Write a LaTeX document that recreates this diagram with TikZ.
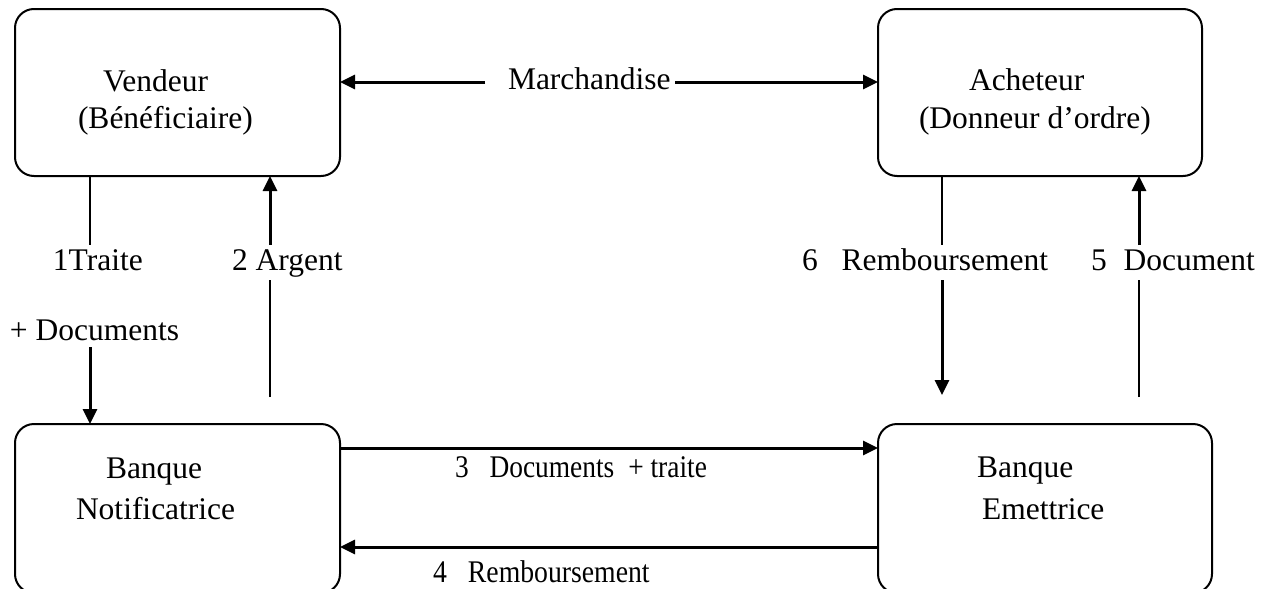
\documentclass[tikz,border=0pt]{standalone}
\usepackage{fontspec}
\setmainfont{Liberation Serif}
\usetikzlibrary{arrows.meta}
\begin{document}
\begin{tikzpicture}[x=0.5pt,y=-0.5pt,
  every node/.style={inner sep=0pt, outer sep=0pt},
  party/.style={draw, line width=1pt, rounded corners=9.5pt},
  txt/.style={anchor=base west, font=\fontsize{15.75}{19}\selectfont},
  flow/.style={line width=1.5pt, -{Triangle[length=7.5pt,width=7pt]}},
  link/.style={line width=1pt}]
\useasboundingbox (0,0) rectangle (1264,589);
\clip (0,0) rectangle (1264,589);

% the four parties
\node[party, minimum width=162.5pt, minimum height=83.5pt] (vend) at (177.5,92.5) {};
\node[party, minimum width=162pt, minimum height=83.5pt] (ach) at (1040,92.5) {};
\node[party, minimum width=162.5pt, minimum height=84.5pt] (noti) at (177.5,508.5) {};
\node[party, minimum width=167pt, minimum height=84.5pt] (emet) at (1045,508.5) {};

% texts inside the boxes
\node[txt] (vend1) at (103,91) {Vendeur};
\node[txt] (vend2) at (78,128) {(Bénéficiaire)};
\node[txt] (ach1) at (969,90) {Acheteur};
\node[txt] (ach2) at (919,128) {(Donneur d’ordre)};
\node[txt] (noti1) at (106,478) {Banque};
\node[txt] (noti2) at (76,519) {Notificatrice};
\node[txt] (emet1) at (977,477) {Banque};
\node[txt] (emet2) at (982,519) {Emettrice};

% flow labels
\node[txt] (march) at (508,89) {Marchandise};
\node[txt] (traite) at (53,270) {1Traite};
\node[txt] (docs) at (10,340) {+ Documents};
\node[txt] (argent) at (232,270) {2 Argent};
\node[txt] (remb6) at (802,270) {6\hspace{12pt}Remboursement};
\node[txt] (doc5) at (1091,270) {5\hspace{8.5pt}Document};
\node[txt] (docs3) at (455,477) {\scalebox{0.87}[1]{3\hspace{12pt}Documents\hspace{8pt}+ traite}};
\node[txt, text depth=0pt] (remb4) at (433,582) {\scalebox{0.88}[1]{4\hspace{12pt}Remboursement}};

% merchandise
\coordinate (m1) at (485,82);
\coordinate (m2) at (675,82);
\draw[flow] (m1) -- (m1 -| vend.east);
\draw[flow] (m2) -- (m2 -| ach.west);

% 1 traite + documents
\coordinate (p1) at (90,245);
\coordinate (p2) at (90,347);
\draw[link] (vend.south -| p1) -- (p1);
\draw[flow] (p2) -- (p2 |- noti.north);

% 2 argent
\coordinate (q1) at (270,397);
\coordinate (q2) at (270,280);
\coordinate (q3) at (270,245);
\draw[link] (q1) -- (q2);
\draw[flow] (q3) -- (q3 |- vend.south);

% 6 remboursement
\coordinate (r1) at (942,245);
\coordinate (r2) at (942,280);
\coordinate (r3) at (942,395);
\draw[link] (ach.south -| r1) -- (r1);
\draw[flow] (r2) -- (r3);

% 5 document
\coordinate (s1) at (1139,397);
\coordinate (s2) at (1139,280);
\coordinate (s3) at (1139,245);
\draw[link] (s1) -- (s2);
\draw[flow] (s3) -- (s3 |- ach.south);

% 3 and 4 between the banks
\coordinate (h3) at (600,448);
\coordinate (h4) at (600,547);
\draw[flow] (h3 -| noti.east) -- (h3 -| emet.west);
\draw[flow] (h4 -| emet.west) -- (h4 -| noti.east);
\end{tikzpicture}
\end{document}
